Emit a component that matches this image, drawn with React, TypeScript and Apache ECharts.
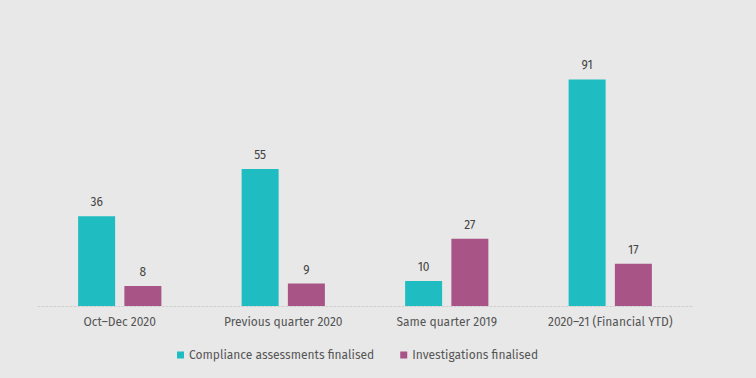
import React, { useEffect, useRef } from "react";
import * as echarts from "echarts";

const categories = ["Oct–Dec 2020", "Previous quarter 2020", "Same quarter 2019", "2020–21 (Financial YTD)"];
const compliance = [36, 55, 10, 91];
const investigations = [8, 9, 27, 17];
const seriesNames = ["Compliance assessments finalised", "Investigations finalised"];

const FONT = "'Fira Sans', 'Roboto', 'Noto Sans', sans-serif";

export default function App() {
  const ref = useRef<HTMLDivElement>(null);
  useEffect(() => {
    if (!ref.current) return;
    const chart = echarts.init(ref.current, null, { renderer: "svg" });
    chart.setOption({
      animation: false,
      backgroundColor: "#e8e8e8",
      textStyle: { fontFamily: FONT },
      grid: { left: 38, right: 64, top: 57, bottom: 72 },
      legend: {
        bottom: 12,
        left: 172,
        itemWidth: 7,
        itemHeight: 7,
        itemGap: 26,
        icon: "rect",
        textStyle: { color: "#555", fontSize: 12, fontFamily: FONT },
        data: seriesNames,
      },
      xAxis: {
        type: "category",
        data: categories,
        axisLine: { show: true, lineStyle: { color: "#cfcfcf", type: [2, 2], width: 1 } },
        axisTick: { show: false },
        axisLabel: { color: "#555", fontSize: 12, margin: 10, interval: 0, fontFamily: FONT },
      },
      yAxis: {
        type: "value",
        min: 0,
        max: 100,
        show: false,
        splitLine: { show: false },
      },
      series: [
        {
          name: seriesNames[0],
          type: "bar",
          data: compliance,
          barWidth: 37,
          barGap: "25%",
          itemStyle: { color: "#1fbdc1" },
          label: { show: true, position: "top", distance: 8, color: "#444", fontSize: 12, fontFamily: FONT },
        },
        {
          name: seriesNames[1],
          type: "bar",
          data: investigations,
          barWidth: 37,
          barGap: "25%",
          itemStyle: { color: "#a85487" },
          label: { show: true, position: "top", distance: 8, color: "#444", fontSize: 12, fontFamily: FONT },
        },
      ],
    });
    return () => chart.dispose();
  }, []);
  return <div ref={ref} style={{ width: 756, height: 378, position: "absolute", left: 0, top: 0 }} />;
}
